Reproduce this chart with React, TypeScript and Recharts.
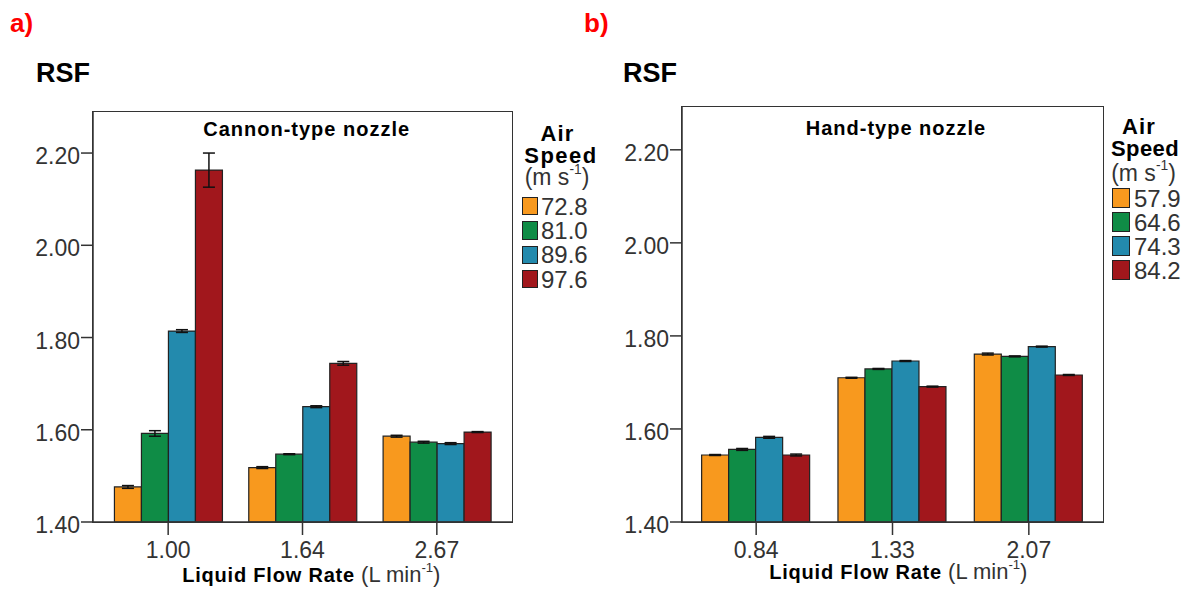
import { BarChart, Bar, XAxis, YAxis, ErrorBar } from 'recharts'

// ─── Palette ──────────────────────────────────────────────────────────────────

const FONT   = '"Liberation Sans", Arial, sans-serif'
const ORANGE = '#F8991E'
const GREEN  = '#0F8C46'
const BLUE   = '#238AAD'
const RED    = '#A1171C'
const INK    = '#222222'
const AXIS   = '#333333'
const SERIES_COLORS = [ORANGE, GREEN, BLUE, RED]

// ─── Data: a) cannon-type nozzle ──────────────────────────────────────────────

const cannonFlows  = ['1.00', '1.64', '2.67']
const cannonSpeeds = ['72.8', '81.0', '89.6', '97.6']
const cannon728 = [1.476, 1.518, 1.586]
const cannon810 = [1.592, 1.547, 1.573]
const cannon896 = [1.814, 1.650, 1.570]
const cannon976 = [2.163, 1.744, 1.595]
const cannonErr728 = [0.003, 0.002, 0.002]
const cannonErr810 = [0.006, 0.001, 0.002]
const cannonErr896 = [0.003, 0.002, 0.002]
const cannonErr976 = [0.037, 0.004, 0.001]

// ─── Data: b) hand-type nozzle ────────────────────────────────────────────────

const handFlows  = ['0.84', '1.33', '2.07']
const handSpeeds = ['57.9', '64.6', '74.3', '84.2']
const hand579 = [1.544, 1.710, 1.761]
const hand646 = [1.556, 1.729, 1.756]
const hand743 = [1.582, 1.746, 1.777]
const hand842 = [1.544, 1.691, 1.716]
const handErr579 = [0.001, 0.001, 0.002]
const handErr646 = [0.002, 0.001, 0.001]
const handErr743 = [0.002, 0.001, 0.001]
const handErr842 = [0.002, 0.001, 0.001]

const yTicks = [1.4, 1.6, 1.8, 2.0, 2.2]

type Row = Record<string, string | number>

function buildRows(flows: string[], series: number[][], errs: number[][]): Row[] {
  return flows.map((flow, i) => {
    const row: Row = { flow }
    series.forEach((s, k) => { row[`s${k}`] = s[i]; row[`e${k}`] = errs[k][i] })
    return row
  })
}

const cannonRows = buildRows(
  cannonFlows,
  [cannon728, cannon810, cannon896, cannon976],
  [cannonErr728, cannonErr810, cannonErr896, cannonErr976],
)
const handRows = buildRows(
  handFlows,
  [hand579, hand646, hand743, hand842],
  [handErr579, handErr646, handErr743, handErr842],
)

// ─── Small text helper (lineHeight 1 → baseline ≈ top + 0.8465·size) ─────────

function Label({ x, base, size, bold, color, center, spacing, children }: {
  x: number, base: number, size: number, bold?: boolean, color?: string,
  center?: boolean, spacing?: number, children: React.ReactNode
}) {
  const top = base - 0.8465 * size
  return (
    <div style={{
      position: 'absolute', top, whiteSpace: 'nowrap',
      left: center ? x - 300 : x, width: center ? 600 : undefined,
      textAlign: center ? 'center' : 'left',
      fontFamily: FONT, fontSize: size, lineHeight: 1,
      fontWeight: bold ? 700 : 400, color: color ?? '#000',
      letterSpacing: spacing ?? 0,
    }}>
      {children}
    </div>
  )
}

function Sup({ children }: { children: React.ReactNode }) {
  return (
    <span style={{ fontSize: '0.6em', position: 'relative', top: '-0.75em', lineHeight: 0 }}>
      {children}
    </span>
  )
}

// ─── One panel ───────────────────────────────────────────────────────────────

interface PanelProps {
  left: number
  width: number
  margin: { top: number, right: number, bottom: number, left: number }
  rows: Row[]
  yMax: number
  pad: number
}

function Panel({ left, width, margin, rows, yMax, pad }: PanelProps) {
  const tickFont = { fontFamily: FONT, fontSize: 23, fill: AXIS }
  const plotW = width - margin.left - 60 - margin.right
  const plotH = 591 - margin.top - margin.bottom - 40
  return (
    <div style={{ position: 'absolute', left, top: 0 }}>
      <BarChart
        width={width} height={591} data={rows} margin={margin}
        barGap={0} barCategoryGap="10%"
      >
        <XAxis
          dataKey="flow" height={40} padding={{ left: pad, right: pad }}
          tick={tickFont} tickSize={13} tickMargin={7}
          stroke={AXIS} strokeWidth={1.5} interval={0}
        />
        <YAxis
          domain={[1.4, yMax]} ticks={yTicks} allowDataOverflow width={60}
          tick={{ ...tickFont, dy: 3 }} tickSize={12} tickMargin={1}
          tickFormatter={(v: number) => v.toFixed(2)}
          stroke={AXIS} strokeWidth={1.5}
        />
        {SERIES_COLORS.map((c, k) => (
          <Bar key={k} dataKey={`s${k}`} fill={c} stroke={INK} strokeWidth={1.2} isAnimationActive={false}>
            <ErrorBar dataKey={`e${k}`} width={6} stroke="#111" strokeWidth={1.5} direction="y" isAnimationActive={false} />
          </Bar>
        ))}
      </BarChart>
      {/* frame round the plot area */}
      <div style={{
        position: 'absolute', left: margin.left + 60 - 0.75, top: margin.top - 0.75,
        width: plotW + 1.5, height: plotH + 1.5, boxSizing: 'border-box',
        border: `1.5px solid ${AXIS}`, pointerEvents: 'none',
      }} />
    </div>
  )
}

// ─── Legend block ────────────────────────────────────────────────────────────

function SpeedLegend({ cx, swatchX, textX, bases, rowTop, rowBase, pitch, swW, swH, speeds, speedSpacing }: {
  cx: number[], swatchX: number, textX: number, bases: number[], rowTop: number, rowBase: number,
  pitch: number, swW: number, swH: number, speeds: string[], speedSpacing: number
}) {
  return (
    <>
      <Label x={cx[0]} base={bases[0]} size={22} bold center spacing={1.2}>Air</Label>
      <Label x={cx[1]} base={bases[1]} size={22} bold center spacing={speedSpacing}>Speed</Label>
      <Label x={cx[2]} base={bases[2]} size={23} center color={AXIS}>(m s<Sup>-1</Sup>)</Label>
      {speeds.map((s, i) => (
        <div key={s}>
          <div style={{
            position: 'absolute', left: swatchX, top: rowTop + i * pitch, width: swW, height: swH,
            background: SERIES_COLORS[i], border: `1.5px solid ${INK}`, boxSizing: 'border-box',
          }} />
          <Label x={textX} base={rowBase + i * pitch} size={24} color={AXIS}>{s}</Label>
        </div>
      ))}
    </>
  )
}

// ─── Main export ──────────────────────────────────────────────────────────────

export default function App() {
  return (
    <div style={{ position: 'absolute', left: 0, top: 0, width: 1187, height: 591, background: '#fff', overflow: 'hidden' }}>
      {/* a) cannon-type */}
      <Panel left={0} width={530} margin={{ top: 112, right: 18, bottom: 29, left: 33 }} rows={cannonRows} yMax={2.289} pad={8} />
      <Label x={10} base={32} size={26} bold color="#FF0000">a)</Label>
      <Label x={36} base={83.3} size={27} bold>RSF</Label>
      <Label x={306.7} base={136} size={20} bold center spacing={1}>Cannon-type nozzle</Label>
      <Label x={311.3} base={582.7} size={22} center color={AXIS}>
        <span style={{ fontWeight: 700, fontSize: 20, letterSpacing: 0.8, color: '#000' }}>Liquid Flow Rate</span> (L min<Sup>-1</Sup>)
      </Label>
      <SpeedLegend
        cx={[557.5, 561, 557]} bases={[141.7, 163.3, 185.2]}
        swatchX={521.5} textX={541} rowTop={196.7} rowBase={215} pitch={24.4}
        swW={16} swH={18.5} speeds={cannonSpeeds} speedSpacing={1.5}
      />

      {/* b) hand-type */}
      <Panel left={600} width={520} margin={{ top: 107, right: 17, bottom: 29, left: 22 }} rows={handRows} yMax={2.292} pad={6} />
      <Label x={584} base={32} size={26} bold color="#FF0000">b)</Label>
      <Label x={623} base={82.5} size={27} bold>RSF</Label>
      <Label x={896} base={135} size={20} bold center spacing={1}>Hand-type nozzle</Label>
      <Label x={898.3} base={580} size={22} center color={AXIS}>
        <span style={{ fontWeight: 700, fontSize: 20, letterSpacing: 0.8, color: '#000' }}>Liquid Flow Rate</span> (L min<Sup>-1</Sup>)
      </Label>
      <SpeedLegend
        cx={[1139, 1145, 1143.5]} bases={[135, 156.5, 181]}
        swatchX={1111.5} textX={1134} rowTop={188} rowBase={207.3} pitch={24}
        swW={18.5} swH={19.5} speeds={handSpeeds} speedSpacing={0.4}
      />
    </div>
  )
}
